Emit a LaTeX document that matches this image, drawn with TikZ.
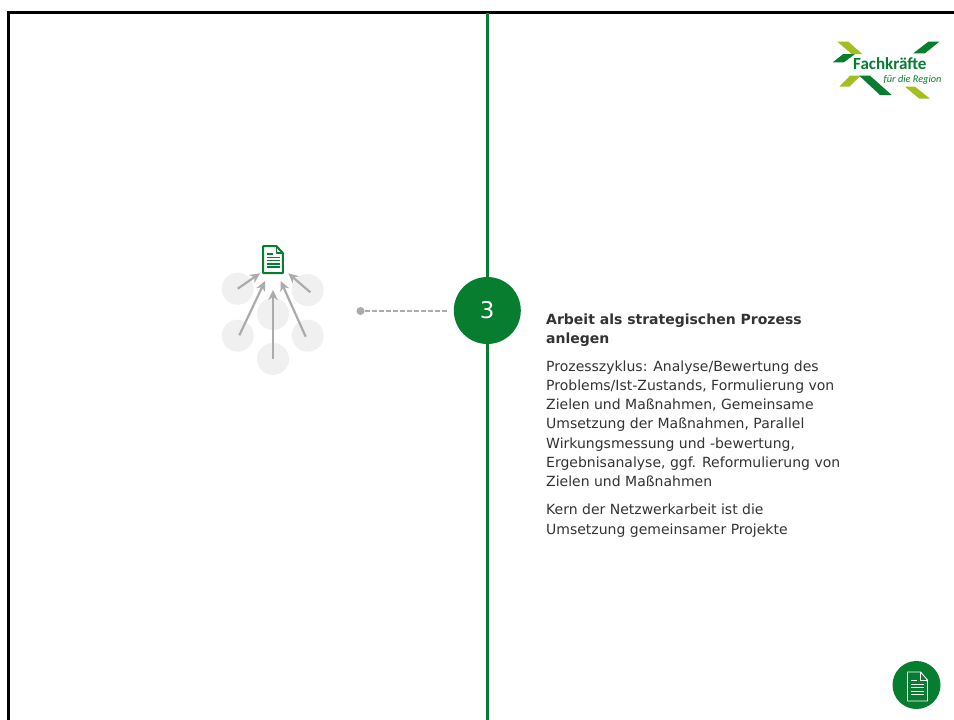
\documentclass[tikz,border=0pt]{standalone}
\usepackage{fontspec}
\setmainfont{DejaVu Sans}
\newfontfamily\logofont{Carlito}
\usetikzlibrary{arrows.meta}
\definecolor{fkgreen}{HTML}{077D30}
\definecolor{fklight}{HTML}{A3BE1F}
\definecolor{fktext}{HTML}{333333}
\definecolor{fkgrey}{HTML}{ABABAB}
\definecolor{fkpale}{HTML}{F0F0F0}
\tikzset{
  paledot/.style={circle,fill=fkpale,draw=none,minimum size=32pt,inner sep=0pt},
  inflow/.style={draw=fkgrey,line width=2.2pt,-{Stealth[length=10pt,width=9.5pt]}},
  para/.style={anchor=north west,align=left,inner sep=0pt,text=fktext,font=\fontsize{14}{19.2}\selectfont},
  logodark/.style={fill=fkgreen,draw=none},
  logolight/.style={fill=fklight,draw=none}
}
\begin{document}
\begin{tikzpicture}[x=1pt,y=-1pt]
\useasboundingbox (0,0) rectangle (954,720);
\fill[white] (0,0) rectangle (954,720);
% frame
\draw[black,line width=2.6pt] (8.3,720) -- (8.3,12.3) -- (954,12.3);
% central line
\coordinate (linetop) at (487.3,13);
\coordinate (linebot) at (487.3,720);
\draw[fkgreen,line width=2.5pt] (linetop) -- (linebot);
\node[circle,fill=fkgreen,minimum size=67pt,inner sep=0pt,text=white,font=\fontsize{23}{23}\selectfont] (num) at (487.3,310.5) {3};
% pale dots
\node[paledot] (d1) at (237.7,288.7) {};
\node[paledot] (d2) at (307.7,290) {};
\node[paledot] (d3) at (273,314) {};
\node[paledot] (d4) at (237.7,335.7) {};
\node[paledot] (d5) at (307.7,335.7) {};
\node[paledot] (d6) at (273,359) {};
% doc icon
\draw[fkgreen,line width=2pt,line join=round,fill=white] (263.2,246.2) -- (276.5,246.2) -- (282.8,253) -- (282.8,273) -- (263.2,273) -- cycle;
\draw[fkgreen,line width=1.5pt,line join=round] (276.5,246.2) -- (276.5,253) -- (282.8,253);
\draw[fkgreen,line width=1.5pt] (267,254) -- (273,254) (267,257.5) -- (279.5,257.5) (267,260.7) -- (279.5,260.7) (267,263.9) -- (279.5,263.9) (267,267.1) -- (279.5,267.1);
\coordinate (t1) at (260,273.3);
\coordinate (t2) at (265,281);
\coordinate (t3) at (273,290);
\coordinate (t4) at (280.7,281);
\coordinate (t5) at (288.3,273.3);
\draw[inflow] (d1.center) -- (t1);
\draw[inflow] (239.3,335.3) -- (t2);
\draw[inflow] (d6.center) -- (t3);
\draw[inflow] (305.7,336.7) -- (t4);
\draw[inflow] (310.3,292.3) -- (t5);
% dashed connector
\node[circle,fill=fkgrey,minimum size=8pt,inner sep=0pt] (dot) at (360.5,311) {};
\coordinate (dashend) at (447,311);
\draw[fkgrey,line width=2.4pt,dash pattern=on 5pt off 2pt] (dot) -- (dashend);
% text
\node[para,font=\fontsize{14}{19.2}\selectfont\bfseries] (head) at (546,313.5) {Arbeit als strategischen Prozess\\anlegen};
\node[para] (body) at (546,360.5) {Prozesszyklus: Analyse/Bewertung des\\Problems/Ist-Zustands, Formulierung von\\Zielen und Maßnahmen, Gemeinsame\\Umsetzung der Maßnahmen, Parallel\\Wirkungsmessung und -bewertung,\\Ergebnisanalyse, ggf. Reformulierung von\\Zielen und Maßnahmen};
\node[para] (kern) at (546,504) {Kern der Netzwerkarbeit ist die\\Umsetzung gemeinsamer Projekte};
% logo
\fill[logolight] (837.3,41.7) -- (848.3,41.7) -- (862.3,54) -- (851.7,54) -- cycle;
\fill[logodark] (832.7,62.3) -- (843.3,54) -- (855,54) -- (844,62.3) -- cycle;
\fill[logodark] (928.3,41.7) -- (939.3,41.7) -- (925,53.3) -- (913.3,53.3) -- cycle;
\fill[logolight] (839.3,86.7) -- (850,75.7) -- (860.7,75.7) -- (849.3,86.7) -- cycle;
\fill[logodark] (859.3,75.7) -- (870,75.7) -- (891.7,95) -- (880,95) -- cycle;
\fill[logolight] (905,86.7) -- (915,86.7) -- (930,98.7) -- (919.3,98.7) -- cycle;
\node[anchor=base west,inner sep=0pt,text=fkgreen,font=\logofont\bfseries\fontsize{17}{17}\selectfont] (lg1) at (853,69.5) {Fachkräfte};
\node[anchor=base west,inner sep=0pt,text=fkgreen,font=\logofont\itshape\fontsize{10.3}{10.3}\selectfont] (lg2) at (883.5,82.5) {für die Region};
% bottom badge
\node[circle,fill=fkgreen,minimum size=48pt,inner sep=0pt] (badge) at (916.5,685) {};
\draw[white,line width=0.9pt,line join=round] (907.5,672) -- (920.5,672) -- (927.5,680) -- (927.5,701) -- (907.5,701) -- cycle;
\draw[white,line width=0.8pt,line join=round] (920.5,672) -- (920.5,680) -- (927.5,680);
\draw[white,line width=0.9pt] (911,680) -- (917,680) (911,684) -- (924,684) (911,687.5) -- (924,687.5) (911,691) -- (924,691) (911,694.5) -- (924,694.5);
\end{tikzpicture}
\end{document}
